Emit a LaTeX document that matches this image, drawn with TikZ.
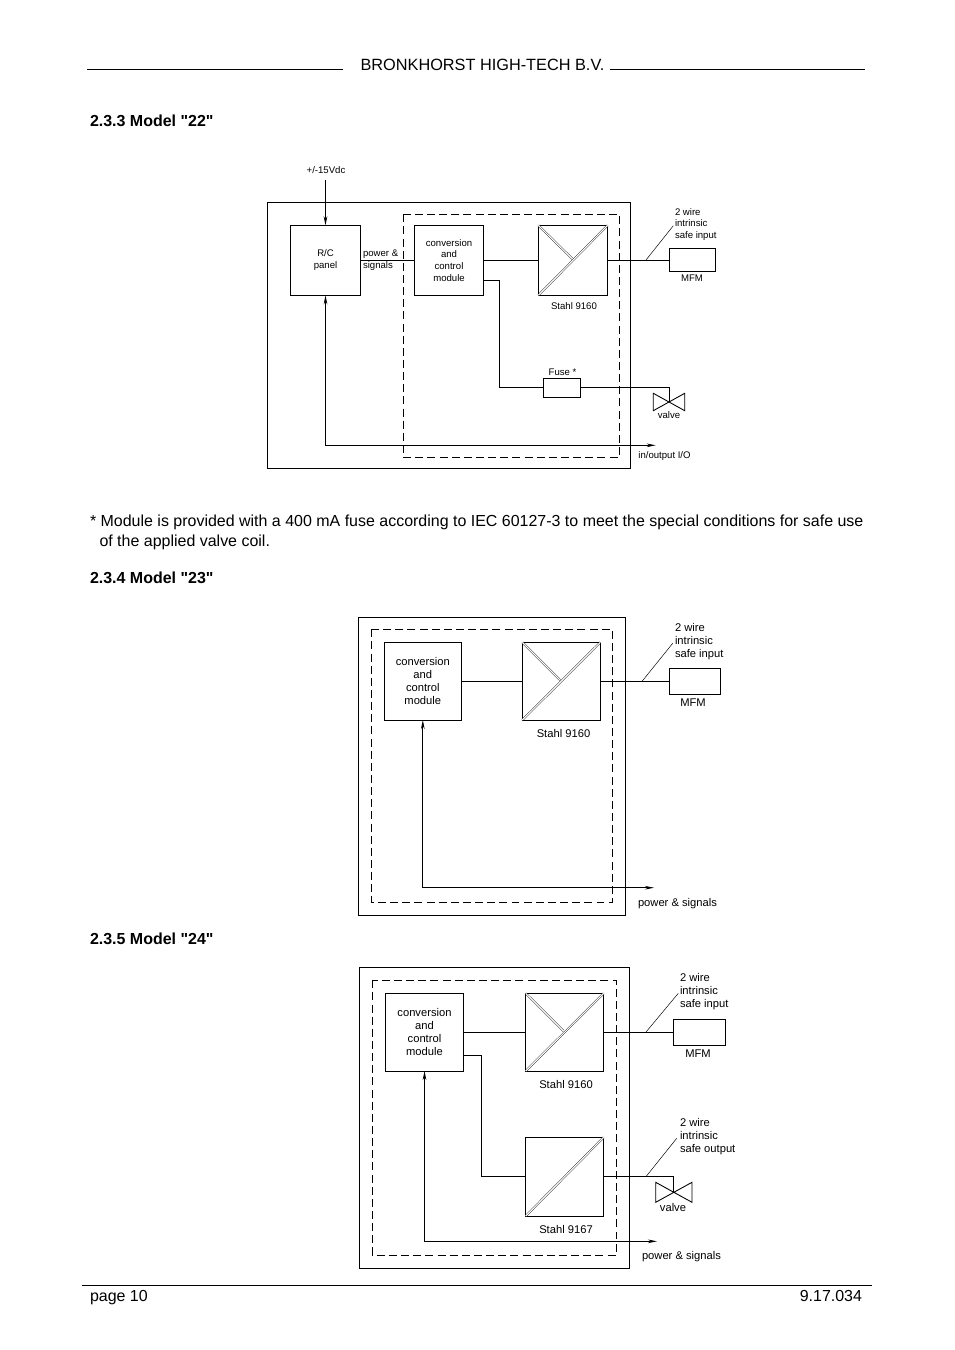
\documentclass[tikz,border=0pt]{standalone}
\usepackage{fontspec}
\setmainfont{Liberation Sans}[Ligatures=TeXOff]
\usetikzlibrary{arrows.meta,calc}
\newcommand{\fsA}{\fontsize{6}{7.25}\selectfont}
\newcommand{\fsB}{\fontsize{7}{8.1}\selectfont}
\newcommand{\fsC}{\fontsize{10}{13}\selectfont}
\newcommand{\fsD}{\fontsize{10.2}{13}\selectfont}
\tikzset{
  x=0.22mm,y=-0.22mm,
  wire/.style={line width=0.55pt},
  thin wire/.style={line width=0.3pt},
  frame/.style={line width=0.6pt},
  dash frame/.style={line width=0.6pt,dash pattern=on 5pt off 2.6pt},
  boxn/.style={draw,line width=0.6pt,inner sep=0pt,outer sep=0pt,align=center},
  arr/.style={wire,-{Stealth[length=2mm,width=0.8mm]}},
  arrb/.style={wire,{Stealth[length=2mm,width=0.8mm]}-{Stealth[length=2mm,width=0.8mm]}},
  iso/.style={line width=0.22pt,double,double distance=0.75pt},
  lab/.style={inner sep=0pt,outer sep=0pt,anchor=base,align=center},
  labl/.style={inner sep=0pt,outer sep=0pt,anchor=base west,align=left},
  labr/.style={inner sep=0pt,outer sep=0pt,anchor=base east,align=right},
  small/.style={font=\fsA},
  med/.style={font=\fsB},
  body/.style={font=\fsC},
  tbody/.style={font=\fsD},
  head/.style={font=\fsC\bfseries},
}
% name, x1, y1, x2, y2, style, text
\newcommand{\bx}[7]{\node[boxn,#6,minimum width={(#4-#2)*0.22mm},minimum height={(#5-#3)*0.22mm}] (#1) at ({(#2+#4)/2},{(#3+#5)/2}) {#7};}
\newcommand{\valve}[5]{\draw[wire,line join=miter] (#2,#3) -- (#4,#5) -- (#4,#3) -- (#2,#5) -- cycle; \coordinate (#1) at ({(#2+#4)/2},{(#3+#5)/2});}
\begin{document}
\begin{tikzpicture}
\useasboundingbox[fill=white] (0,0) rectangle (954,1350);
% header / footer
\node[lab,tbody] (title) at (482.5,71) {BRONKHORST HIGH-TECH B.V.};
\coordinate (hl1) at (87,69); \coordinate (hl2) at (343,69);
\coordinate (hr1) at (610,69); \coordinate (hr2) at (865,69);
\draw[line width=0.35pt] (hl1) -- (hl2);
\draw[line width=0.35pt] (hr1) -- (hr2);
\coordinate (fl1) at (82,1285.5); \coordinate (fl2) at (872,1285.5);
\draw[line width=0.4pt] (fl1) -- (fl2);
\node[labl,body] (page) at (90,1301) {page 10};
\node[labr,body] (docno) at (862,1301) {9.17.034};
\node[labl,head] (h1) at (90,127) {2.3.3 Model "22"};
\node[labl,head] (h2) at (90,583) {2.3.4 Model "23"};
\node[labl,head] (h3) at (90,944) {2.3.5 Model "24"};
\node[labl,body] (n1) at (90,526) {* Module is provided with a 400 mA fuse according to IEC 60127-3 to meet the special conditions for safe use};
\node[labl,body] (n2) at (99.5,546) {of the applied valve coil.};

% ===== Model 22
\coordinate (aO1) at (267.3,202.3); \coordinate (aO2) at (630.3,468.3);
\draw[frame] (aO1) rectangle (aO2);
\coordinate (aD1) at (403.3,214.3); \coordinate (aD2) at (619.3,457.3);
\draw[dash frame] (aD1) rectangle (aD2);
\bx{arc}{290.3}{225.3}{360.7}{295.3}{small}{R/C\\panel}
\bx{acv}{414.3}{225.3}{483.7}{295.3}{small}{conversion\\and\\control\\module}
\bx{ast}{538.3}{225.3}{607.7}{295.3}{}{}
\bx{amf}{669.3}{248.3}{715.3}{271.3}{}{}
\bx{afu}{543.3}{378.3}{580.3}{397.3}{}{}
\draw[iso] (ast.south west) -- (ast.north east);
\coordinate (astm) at (572.5,259);
\draw[iso] (ast.north west) -- (astm);
\draw[wire] (arc.east) -- (acv.west);
\draw[wire] (acv.east) -- (ast.west);
\draw[wire] (ast.east) -- (ast.east -| amf.west);
\coordinate (acv2) at (483.7,280.3);
\coordinate (aj1) at (499.3,280.3);
\draw[wire] (acv2) -- (aj1) |- (afu.west);
\valve{avl}{653.3}{393.3}{684.7}{410.7}
\draw[wire] (afu.east) -| (avl);
\coordinate (asup) at (325.5,180);
\draw[arr] (asup) -- (arc.north);
\coordinate (aio) at (655.7,445.3);
\draw[arrb] (arc.south) |- (aio);
\coordinate (al1) at (646,260); \coordinate (al2) at (673.3,225.7);
\draw[thin wire] (al1) -- (al2);
\node[lab,small] (t1) at (326,173) {+/-15Vdc};
\node[labl,small] (t2) at (363,268.5) {power \&\\signals};
\node[lab,small] (t3) at (574,309.5) {Stahl 9160};
\node[labl,small] (t4) at (675,238.5) {2 wire\\intrinsic\\safe input};
\node[lab,small] (t5) at (692,281.5) {MFM};
\node[lab,small] (t6) at (562.5,375) {Fuse *};
\node[lab,small] (t7) at (669,418) {valve};
\node[lab,small] (t8) at (664.5,458) {in/output I/O};

% ===== Model 23
\coordinate (bO1) at (358.3,617.3); \coordinate (bO2) at (625.7,915);
\draw[frame] (bO1) rectangle (bO2);
\coordinate (bD1) at (371.7,629.3); \coordinate (bD2) at (612.3,902.3);
\draw[dash frame] (bD1) rectangle (bD2);
\bx{bcv}{384.3}{642.3}{461.3}{720}{med}{conversion\\and\\control\\module}
\bx{bst}{522.3}{642.3}{600.3}{720}{}{}
\bx{bmf}{669.3}{668.7}{720.7}{694.3}{}{}
\draw[iso] (bst.south west) -- (bst.north east);
\coordinate (bstm) at (560,680);
\draw[iso] (bst.north west) -- (bstm);
\draw[wire] (bcv.east) -- (bst.west);
\draw[wire] (bst.east) -- (bst.east -| bmf.west);
\coordinate (be) at (654,887.7);
\draw[arrb] (bcv.south) |- (be);
\coordinate (bl1) at (642.3,681); \coordinate (bl2) at (672.7,643.3);
\draw[thin wire] (bl1) -- (bl2);
\node[lab,med] (u1) at (563.5,737) {Stahl 9160};
\node[labl,med] (u2) at (675,657.5) {2 wire\\intrinsic\\safe input};
\node[lab,med] (u3) at (693,706) {MFM};
\node[labl,med] (u4) at (638,906) {power \& signals};

% ===== Model 24
\coordinate (cO1) at (359.3,967.3); \coordinate (cO2) at (629.3,1268.3);
\draw[frame] (cO1) rectangle (cO2);
\coordinate (cD1) at (372.3,980.3); \coordinate (cD2) at (616.3,1255);
\draw[dash frame] (cD1) rectangle (cD2);
\bx{ccv}{385.3}{993.3}{463.7}{1071}{med}{conversion\\and\\control\\module}
\bx{cs1}{525.7}{993.3}{603.7}{1071}{}{}
\bx{cs2}{525.7}{1137.3}{603.7}{1216}{}{}
\bx{cmf}{673.7}{1019.3}{725.3}{1045.3}{}{}
\draw[iso] (cs1.south west) -- (cs1.north east);
\coordinate (cs1m) at (563.5,1031);
\draw[iso] (cs1.north west) -- (cs1m);
\draw[iso] (cs2.south west) -- (cs2.north east);
\draw[wire] (ccv.east) -- (cs1.west);
\draw[wire] (cs1.east) -- (cs1.east -| cmf.west);
\coordinate (ccv2) at (463.7,1055.3);
\coordinate (cj1) at (481.7,1055.3);
\draw[wire] (ccv2) -- (cj1) |- (cs2.west);
\valve{cvl}{655.7}{1182.3}{692}{1202.3}
\draw[wire] (cs2.east) -| (cvl);
\coordinate (ce) at (657,1241.3);
\draw[arrb] (ccv.south) |- (ce);
\coordinate (cl1) at (646,1032); \coordinate (cl2) at (678.3,993.3);
\draw[thin wire] (cl1) -- (cl2);
\coordinate (cl3) at (646,1176.6); \coordinate (cl4) at (676.7,1138.3);
\draw[thin wire] (cl3) -- (cl4);
\node[lab,med] (v1) at (566,1088) {Stahl 9160};
\node[lab,med] (v2) at (566,1233) {Stahl 9167};
\node[labl,med] (v3) at (680,1007.5) {2 wire\\intrinsic\\safe input};
\node[labl,med] (v4) at (680,1152) {2 wire\\intrinsic\\safe output};
\node[lab,med] (v5) at (698,1057) {MFM};
\node[lab,med] (v6) at (673,1211) {valve};
\node[labl,med] (v7) at (642,1259) {power \& signals};
\end{tikzpicture}
\end{document}
